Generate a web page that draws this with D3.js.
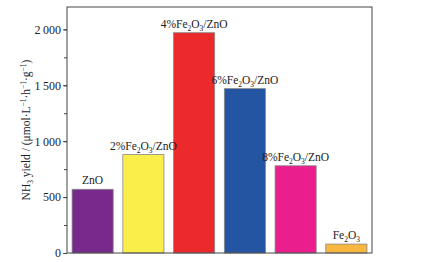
<!DOCTYPE html>
<html>
<head>
<meta charset="utf-8">
<script src="https://cdn.jsdelivr.net/npm/d3@7"></script>
<style>
  body { margin: 0; background: #fff; }
  text { font-family: "Liberation Serif", "Times New Roman", serif; fill: #222; }
</style>
</head>
<body>
<svg id="chart" width="432" height="262"></svg>
<script>
// samples, as "name" with _x marking subscripts
const samples = ['ZnO', '2%Fe_2O_3/ZnO', '4%Fe_2O_3/ZnO', '6%Fe_2O_3/ZnO', '8%Fe_2O_3/ZnO', 'Fe_2O_3']
const yields = [570, 880, 1970, 1470, 780, 80]
const colors = ['#77298c', '#f9ee4a', '#ec2a2c', '#2355a3', '#ea1f8d', '#f8b73e']
const yTicks = [0, 500, 1000, 1500, 2000]

const margin = { top: 7, right: 60, bottom: 9, left: 67 }
const width = 432, height = 262

const svg = d3.select('#chart')

const x = d3.scaleBand()
  .domain(samples)
  .range([margin.left, width - margin.right])
  .paddingInner(0.19)
  .paddingOuter(0.1)

const y = d3.scaleLinear()
  .domain([0, 2200])
  .range([height - margin.bottom, margin.top])

// split "Fe_2O_3" into tspans with subscripts
const richText = (sel, s) => {
  const parts = s.split(/(_\d)/).filter(p => p.length)
  parts.forEach(p => {
    if (p[0] === '_') {
      sel.append('tspan').attr('dy', 3).attr('font-size', '0.65em').text(p.slice(1))
    } else {
      const t = sel.append('tspan').text(p)
      if (sel.selectAll('tspan').size() > 1) t.attr('dy', -3)
    }
  })
}

// minor ticks every 250
svg.append('g')
  .attr('transform', `translate(${margin.left},0)`)
  .call(d3.axisLeft(y).tickValues(d3.range(0, 2201, 250)).tickSize(3).tickFormat(''))
  .call(g => g.select('.domain').remove())
  .call(g => g.selectAll('line').attr('stroke', '#444'))

// major ticks
svg.append('g')
  .attr('transform', `translate(${margin.left},0)`)
  .call(d3.axisLeft(y).tickValues(yTicks).tickSize(4).tickPadding(2)
    .tickFormat(d => d3.format(',')(d).replace(',', '\u2009')))
  .call(g => g.select('.domain').remove())
  .call(g => g.selectAll('line').attr('stroke', '#444'))
  .call(g => g.selectAll('text').attr('font-size', 12)
    .attr('font-family', '"Liberation Serif", serif').attr('fill', '#222'))

// bars
svg.selectAll('.bar')
  .data(samples)
  .join('rect')
  .attr('class', 'bar')
  .attr('x', d => x(d))
  .attr('y', (d, i) => y(yields[i]))
  .attr('width', x.bandwidth())
  .attr('height', (d, i) => y(0) - y(yields[i]))
  .attr('fill', (d, i) => colors[i])
  .attr('stroke', '#888')
  .attr('stroke-width', 0.8)

// bar labels
svg.selectAll('.label')
  .data(samples)
  .join('text')
  .attr('class', 'label')
  .attr('x', d => x(d) + x.bandwidth() / 2)
  .attr('y', (d, i) => y(yields[i]) - 5)
  .attr('text-anchor', 'middle')
  .attr('font-size', 11.5)
  .each(function(d) { richText(d3.select(this), d) })

// frame
svg.append('rect')
  .attr('x', margin.left)
  .attr('y', margin.top)
  .attr('width', width - margin.right - margin.left)
  .attr('height', height - margin.bottom - margin.top)
  .attr('fill', 'none')
  .attr('stroke', '#444')
  .attr('stroke-width', 1)

// y label
const yl = svg.append('text')
  .attr('transform', `translate(30,${(margin.top + height - margin.bottom) / 2}) rotate(-90)`)
  .attr('text-anchor', 'middle')
  .attr('font-size', 11.5)
yl.append('tspan').text('NH')
yl.append('tspan').attr('dy', 3).attr('font-size', '0.65em').text('3')
yl.append('tspan').attr('dy', -3).text(' yield / (\u03bcmol\u00b7L')
yl.append('tspan').attr('dy', -4).attr('font-size', '0.65em').text('\u22121')
yl.append('tspan').attr('dy', 4).text('\u00b7h')
yl.append('tspan').attr('dy', -4).attr('font-size', '0.65em').text('\u22121')
yl.append('tspan').attr('dy', 4).text('\u00b7g')
yl.append('tspan').attr('dy', -4).attr('font-size', '0.65em').text('\u22121')
yl.append('tspan').attr('dy', 4).text(')')
</script>
</body>
</html>
